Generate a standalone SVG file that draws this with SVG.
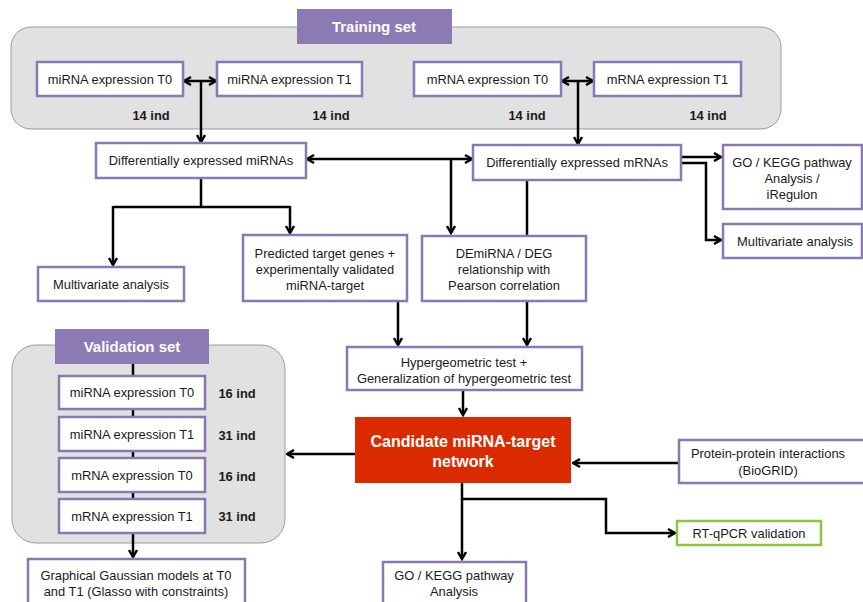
<svg xmlns="http://www.w3.org/2000/svg" width="863" height="602" viewBox="0 0 863 602">
<defs>
<marker id="ah" viewBox="0 0 10 10" refX="8.5" refY="5" markerWidth="10" markerHeight="10" markerUnits="userSpaceOnUse" orient="auto-start-reverse">
<path d="M1.5,1 L8.5,5 L1.5,9" fill="none" stroke="#000" stroke-width="2.4" stroke-linejoin="miter"/>
</marker>
<style>
.cont{fill:#e1e1e1;stroke:#9a9a9a;stroke-width:1}
.box{fill:#fff;stroke:#8a78b2;stroke-width:2.5}
.gbox{fill:#fff;stroke:#8cc63e;stroke-width:2.5}
.lab{fill:#8b7ab3}
.t{font-family:"Liberation Sans",Arial,sans-serif;font-size:12.9px;fill:#1a1a1a;text-anchor:middle}
.b{font-family:"Liberation Sans",Arial,sans-serif;font-size:12.9px;font-weight:bold;fill:#1a1a1a;text-anchor:middle}
.w{font-family:"Liberation Sans",Arial,sans-serif;font-size:15px;font-weight:bold;fill:#fff;text-anchor:middle}
.c{font-family:"Liberation Sans",Arial,sans-serif;font-size:16px;font-weight:bold;fill:#fff;text-anchor:middle}
.ln{fill:none;stroke:#000;stroke-width:2.5}
</style>
</defs>

<g id="training-set">
<rect class="cont" x="11" y="27" width="770" height="102" rx="20"/>
<rect class="lab" x="297" y="9" width="155" height="35"/>
<text class="w" x="374" y="32">Training set</text>
</g>
<g id="validation-set">
<rect class="cont" x="12" y="345" width="273" height="198" rx="24"/>
</g>

<g id="connectors">
<line class="ln" x1="184" y1="81" x2="216" y2="81" marker-start="url(#ah)" marker-end="url(#ah)"/>
<line class="ln" x1="201" y1="81" x2="201" y2="142" marker-end="url(#ah)"/>
<line class="ln" x1="562" y1="81" x2="593" y2="81" marker-start="url(#ah)" marker-end="url(#ah)"/>
<line class="ln" x1="578" y1="81" x2="578" y2="144" marker-end="url(#ah)"/>
<line class="ln" x1="307" y1="159" x2="472" y2="159" marker-start="url(#ah)" marker-end="url(#ah)"/>
<line class="ln" x1="451" y1="159" x2="451" y2="233" marker-end="url(#ah)"/>
<line class="ln" x1="527" y1="180" x2="527" y2="236"/>
<line class="ln" x1="682" y1="157" x2="721" y2="157" marker-end="url(#ah)"/>
<path class="ln" d="M682,163 H706 V240 H721" marker-end="url(#ah)"/>
<path class="ln" d="M201,178 V207 M113,207 H290"/>
<line class="ln" x1="113" y1="206" x2="113" y2="265" marker-end="url(#ah)"/>
<line class="ln" x1="290" y1="206" x2="290" y2="233" marker-end="url(#ah)"/>
<line class="ln" x1="398" y1="301" x2="398" y2="345" marker-end="url(#ah)"/>
<line class="ln" x1="527" y1="301" x2="527" y2="345" marker-end="url(#ah)"/>
<line class="ln" x1="463" y1="390" x2="463" y2="415" marker-end="url(#ah)"/>
<line class="ln" x1="355" y1="454" x2="287" y2="454" marker-end="url(#ah)"/>
<line class="ln" x1="679" y1="463" x2="573" y2="463" marker-end="url(#ah)"/>
<line class="ln" x1="462" y1="483" x2="462" y2="559" marker-end="url(#ah)"/>
<path class="ln" d="M462,499 H606 V533 H675" marker-end="url(#ah)"/>
<line class="ln" x1="133" y1="364" x2="133" y2="499"/>
<line class="ln" x1="133" y1="533" x2="133" y2="557" marker-end="url(#ah)"/>
</g>

<g id="validation-label">
<rect class="lab" x="55" y="329" width="154" height="35"/>
<text class="w" x="132" y="352">Validation set</text>
</g>

<g id="tr-mirna-t0"><rect class="box" x="37" y="62" width="146" height="34"/><text class="t" x="110" y="83.5">miRNA expression T0</text></g>
<g id="tr-mirna-t1"><rect class="box" x="217" y="62" width="145" height="34"/><text class="t" x="289.5" y="83.5">miRNA expression T1</text></g>
<g id="tr-mrna-t0"><rect class="box" x="414" y="62" width="147" height="34"/><text class="t" x="487.5" y="83.5">mRNA expression T0</text></g>
<g id="tr-mrna-t1"><rect class="box" x="594" y="62" width="147" height="34"/><text class="t" x="667.5" y="83.5">mRNA expression T1</text></g>
<g id="tr-ind">
<text class="b" x="151" y="120">14 ind</text>
<text class="b" x="331" y="120">14 ind</text>
<text class="b" x="527" y="120">14 ind</text>
<text class="b" x="708" y="120">14 ind</text>
</g>

<g id="de-mirnas"><rect class="box" x="96" y="143" width="210" height="35"/><text class="t" x="201" y="165">Differentially expressed  miRNAs</text></g>
<g id="de-mrnas"><rect class="box" x="473" y="145" width="208" height="35"/><text class="t" x="577" y="167">Differentially expressed  mRNAs</text></g>
<g id="go-kegg-1"><rect class="box" x="723" y="145" width="139" height="64"/>
<text class="t" x="792" y="166.5">GO / KEGG pathway</text>
<text class="t" x="792" y="182.5">Analysis /</text>
<text class="t" x="792" y="198.5">iRegulon</text></g>
<g id="multivariate-2"><rect class="box" x="723" y="224" width="139" height="34"/><text class="t" x="795" y="245.5">Multivariate analysis</text></g>
<g id="multivariate-1"><rect class="box" x="38" y="267" width="146" height="34"/><text class="t" x="111" y="288.5">Multivariate analysis</text></g>
<g id="predicted"><rect class="box" x="243" y="235" width="164" height="66"/>
<text class="t" x="325" y="257.5">Predicted target genes +</text>
<text class="t" x="325" y="273.5">experimentally validated</text>
<text class="t" x="325" y="289.5">miRNA-target</text></g>
<g id="demirna-deg"><rect class="box" x="422" y="236" width="164" height="65"/>
<text class="t" x="504" y="257.5">DEmiRNA / DEG</text>
<text class="t" x="504" y="273.5">relationship with</text>
<text class="t" x="504" y="289.5">Pearson correlation</text></g>
<g id="hypergeometric"><rect class="box" x="347" y="347" width="235" height="43"/>
<text class="t" x="464" y="366.5">Hypergeometric test +</text>
<text class="t" x="464" y="382.5">Generalization of hypergeometric test</text></g>
<g id="candidate"><rect x="355" y="417" width="216" height="66" fill="#dc2a00"/>
<text class="c" x="463" y="447">Candidate miRNA-target</text>
<text class="c" x="463" y="467">network</text></g>
<g id="ppi"><rect class="box" x="679" y="440" width="186" height="43"/>
<text class="t" x="768" y="458">Protein-protein interactions</text>
<text class="t" x="768" y="475">(BioGRID)</text></g>
<g id="rtqpcr"><rect class="gbox" x="677" y="521" width="144" height="24"/><text class="t" x="749" y="537.5">RT-qPCR validation</text></g>
<g id="go-kegg-2"><rect class="box" x="383" y="562" width="143" height="50"/>
<text class="t" x="454" y="580">GO / KEGG pathway</text>
<text class="t" x="454" y="596">Analysis</text></g>

<g id="va-mirna-t0"><rect class="box" x="59" y="376" width="146" height="33"/><text class="t" x="132" y="397">miRNA expression T0</text></g>
<g id="va-mirna-t1"><rect class="box" x="59" y="417" width="146" height="34"/><text class="t" x="132" y="438.5">miRNA expression T1</text></g>
<g id="va-mrna-t0"><rect class="box" x="59" y="458" width="146" height="34"/><text class="t" x="132" y="479.5">mRNA expression T0</text></g>
<g id="va-mrna-t1"><rect class="box" x="59" y="499" width="146" height="34"/><text class="t" x="132" y="520.5">mRNA expression T1</text></g>
<g id="va-ind">
<text class="b" x="237" y="398">16 ind</text>
<text class="b" x="237" y="440">31 ind</text>
<text class="b" x="237" y="481">16 ind</text>
<text class="b" x="237" y="521">31 ind</text>
</g>
<g id="graphical"><rect class="box" x="28" y="559" width="217" height="50"/>
<text class="t" x="136" y="580">Graphical Gaussian models at T0</text>
<text class="t" x="136" y="596">and T1 (Glasso with constraints)</text></g>
</svg>
